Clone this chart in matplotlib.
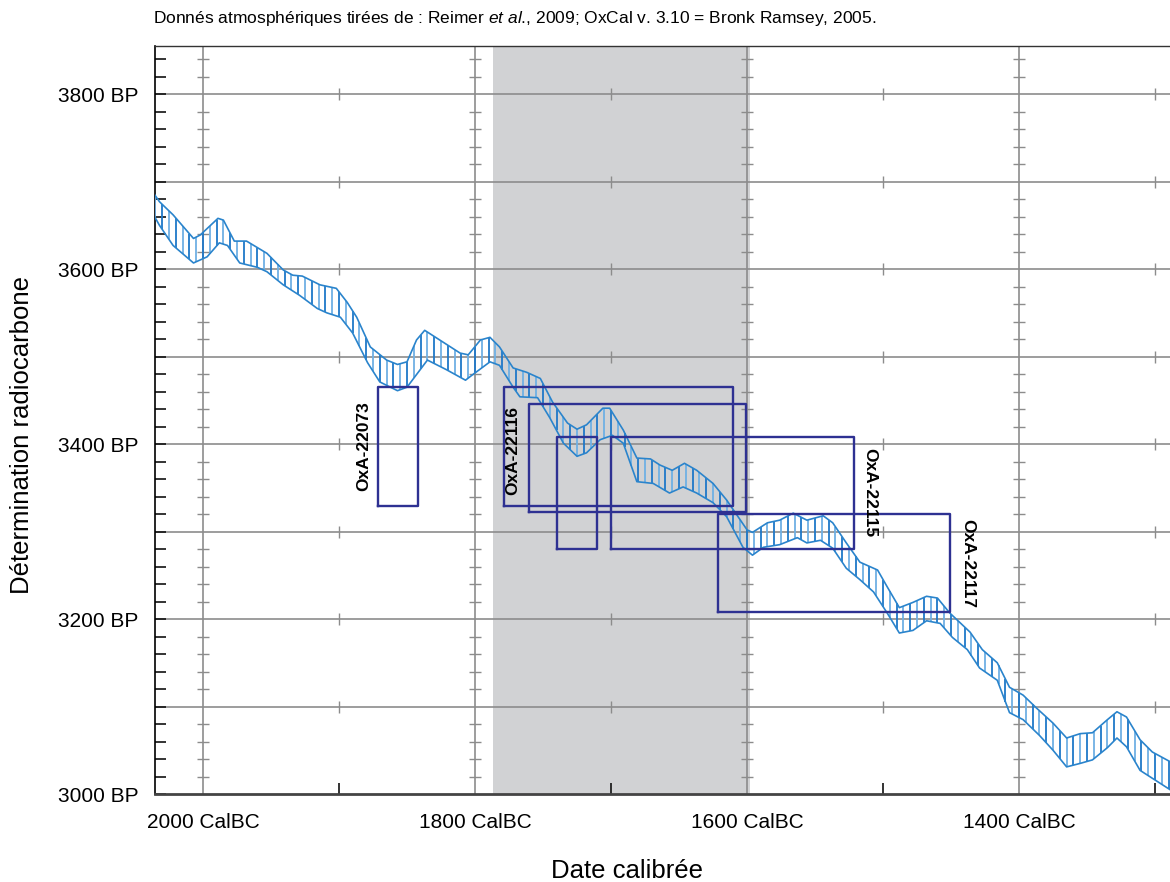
import numpy as np
import matplotlib
matplotlib.use('Agg')
import matplotlib.pyplot as plt

plt.rcParams['font.family'] = ['Liberation Sans', 'DejaVu Sans']
plt.rcParams['mathtext.fontset'] = 'custom'
plt.rcParams['mathtext.rm'] = 'Liberation Sans'
plt.rcParams['mathtext.it'] = 'Liberation Sans:italic'

# Courbe de calibration (bord haut / bord bas), années CalBC et BP
haut_annee = [2036, 2032, 2022, 2007, 2002, 1989, 1985, 1977, 1968, 1953, 1941, 1934, 1927,
              1914, 1902, 1894, 1887, 1877, 1865, 1857, 1850, 1843, 1837, 1826, 1811, 1805,
              1796, 1789, 1782, 1772, 1762, 1752, 1743, 1732, 1725, 1718, 1706, 1701, 1691,
              1681, 1671, 1664, 1655, 1646, 1637, 1625, 1615, 1600, 1596, 1585, 1576, 1566,
              1556, 1544, 1537, 1527, 1517, 1504, 1497, 1488, 1478, 1468, 1460, 1451, 1436,
              1427, 1416, 1407, 1397, 1387, 1375, 1365, 1355, 1346, 1335, 1328, 1321, 1311,
              1302, 1289]
haut_bp = [3686, 3677, 3662, 3635, 3639, 3658, 3656, 3632, 3632, 3618, 3599, 3593, 3592,
           3582, 3578, 3562, 3545, 3511, 3496, 3491, 3494, 3519, 3530, 3519, 3504, 3502,
           3519, 3522, 3511, 3487, 3482, 3475, 3448, 3424, 3417, 3422, 3441, 3441, 3416,
           3384, 3383, 3376, 3370, 3378, 3370, 3355, 3336, 3302, 3299, 3310, 3313, 3321,
           3313, 3318, 3310, 3287, 3265, 3256, 3237, 3213, 3219, 3226, 3224, 3207, 3185,
           3165, 3150, 3122, 3113, 3098, 3081, 3064, 3069, 3070, 3085, 3094, 3088, 3062,
           3048, 3037]

bas_annee = [2036, 2032, 2022, 2007, 1997, 1988, 1982, 1973, 1960, 1953, 1941, 1929, 1916,
             1909, 1899, 1890, 1879, 1870, 1857, 1850, 1835, 1821, 1807, 1802, 1789, 1782,
             1772, 1767, 1754, 1745, 1735, 1725, 1718, 1708, 1699, 1691, 1681, 1669, 1657,
             1647, 1637, 1625, 1615, 1603, 1596, 1588, 1576, 1563, 1556, 1546, 1537, 1527,
             1517, 1507, 1497, 1488, 1478, 1468, 1458, 1449, 1438, 1429, 1416, 1407, 1397,
             1385, 1375, 1365, 1355, 1346, 1335, 1328, 1321, 1311, 1302, 1289]
bas_bp = [3661, 3650, 3627, 3607, 3614, 3630, 3627, 3607, 3602, 3597, 3582, 3570, 3555,
          3550, 3545, 3527, 3493, 3471, 3461, 3465, 3496, 3485, 3473, 3479, 3494, 3490,
          3465, 3454, 3453, 3430, 3401, 3386, 3390, 3405, 3410, 3401, 3357, 3355, 3344,
          3351, 3344, 3333, 3317, 3282, 3273, 3282, 3285, 3293, 3287, 3290, 3281, 3258,
          3245, 3231, 3207, 3184, 3187, 3198, 3195, 3179, 3165, 3144, 3130, 3093, 3085,
          3067, 3050, 3031, 3035, 3039, 3053, 3064, 3054, 3027, 3018, 3005]

# Boîtes des datations (CalBC début/fin, BP bas/haut)
boite_debut = [1871, 1779, 1760, 1740, 1700, 1621]
boite_fin = [1842, 1610, 1601, 1710, 1521, 1451]
boite_bas = [3329, 3329, 3322, 3280, 3280, 3208]
boite_haut = [3465, 3465, 3446, 3408, 3408, 3320]

etiquettes = ['OxA-22073', 'OxA-22116', 'OxA-22115', 'OxA-22117']
etiq_x = [1882, 1772, 1510, 1438]
etiq_y = [3398, 3393, 3344, 3264]
etiq_rot = [90, 90, 270, 270]

zone_grise = (1787, 1598)

fig = plt.figure(figsize=(11.7, 8.82), dpi=100)
ax = fig.add_axes([155/1170, 1-794/882, 1015/1170, 748/882])
ax.set_xlim(2035.3, 1289)
ax.set_ylim(3000, 3855)

ax.axvspan(zone_grise[0], zone_grise[1], color='#d1d2d4', lw=0, zorder=0)

# grille
for v in [2000, 1800, 1600, 1400]:
    ax.axvline(v, color='#8c8c8c', lw=1.2, zorder=1)
for h in range(3100, 3900, 100):
    ax.axhline(h, color='#8c8c8c', lw=1.2, zorder=1)

# petits traits sur la grille
for v in [2000, 1800, 1600, 1400]:
    ys = [y for y in range(3020, 3860, 20) if y % 100 != 0]
    ax.plot([v]*len(ys), ys, ls='none', marker='_', ms=9, mew=1.0, color='#8c8c8c', zorder=1)
for v in [1900, 1700, 1500, 1300]:
    ys = list(range(3100, 3900, 100))
    ax.plot([v]*len(ys), ys, ls='none', marker='|', ms=9, mew=1.0, color='#8c8c8c', zorder=1)

# hachures verticales tous les 5 ans
ha = np.array(haut_annee[::-1])
hb = np.array(haut_bp[::-1])
ba = np.array(bas_annee[::-1])
bb = np.array(bas_bp[::-1])
pas = np.arange(1290, 2036, 5)
y_haut = np.interp(pas, ha, hb)
y_bas = np.interp(pas, ba, bb)
couleurs = ['#1f78c8' if i % 2 == 0 else '#6fb0e4' for i in range(len(pas))]
ax.vlines(pas, y_bas, y_haut, colors=couleurs, lw=1.3, zorder=3)

ax.plot(haut_annee, haut_bp, color='#2a84cc', lw=1.2, zorder=4)
ax.plot(bas_annee, bas_bp, color='#2a84cc', lw=1.2, zorder=4)

for d, f, b, h in zip(boite_debut, boite_fin, boite_bas, boite_haut):
    ax.plot([d, f, f, d, d], [b, b, h, h, b], color='#2e3192', lw=1.7, zorder=5)

for t, x, y, r in zip(etiquettes, etiq_x, etiq_y, etiq_rot):
    ax.text(x, y, t, rotation=r, ha='center', va='center', fontsize=12.5,
            fontweight='bold', color='black', zorder=6)

# axes
ax.set_xticks([2000, 1800, 1600, 1400])
ax.set_xticklabels(['2000 CalBC', '1800 CalBC', '1600 CalBC', '1400 CalBC'], fontsize=15)
ax.set_xticks([1900, 1700, 1500, 1300], minor=True)
ax.set_yticks(range(3000, 3900, 100))
ax.set_yticklabels(['3000 BP', '', '3200 BP', '', '3400 BP', '', '3600 BP', '', '3800 BP'], fontsize=15)
ax.set_yticks(range(3000, 3860, 20), minor=True)
ax.tick_params(axis='both', which='both', direction='in', length=8, width=1.2, color='#111111')
ax.tick_params(axis='x', which='both', pad=14)
ax.tick_params(axis='y', which='both', pad=12)
ax.tick_params(axis='x', which='major', length=0)

ax.spines['right'].set_visible(False)
ax.spines['left'].set_color('black')
ax.spines['left'].set_linewidth(1.2)
ax.spines['top'].set_color('#333333')
ax.spines['top'].set_linewidth(1.0)
ax.spines['bottom'].set_color('#444444')
ax.spines['bottom'].set_linewidth(2.0)

fig.text(22/1170, 1-435/882, 'Détermination radiocarbone', rotation=90, ha='center', va='center', fontsize=18.5)
fig.text(627/1170, 1-871/882, 'Date calibrée', ha='center', va='center', fontsize=18.5)
fig.text(153/1170, 1-18/882,
         r'Donnés atmosphériques tirées de : Reimer $\it{et\ al}$., 2009; OxCal v. 3.10 = Bronk Ramsey, 2005.',
         ha='left', va='center', fontsize=12.5)

fig.savefig('out.png', dpi=100)
